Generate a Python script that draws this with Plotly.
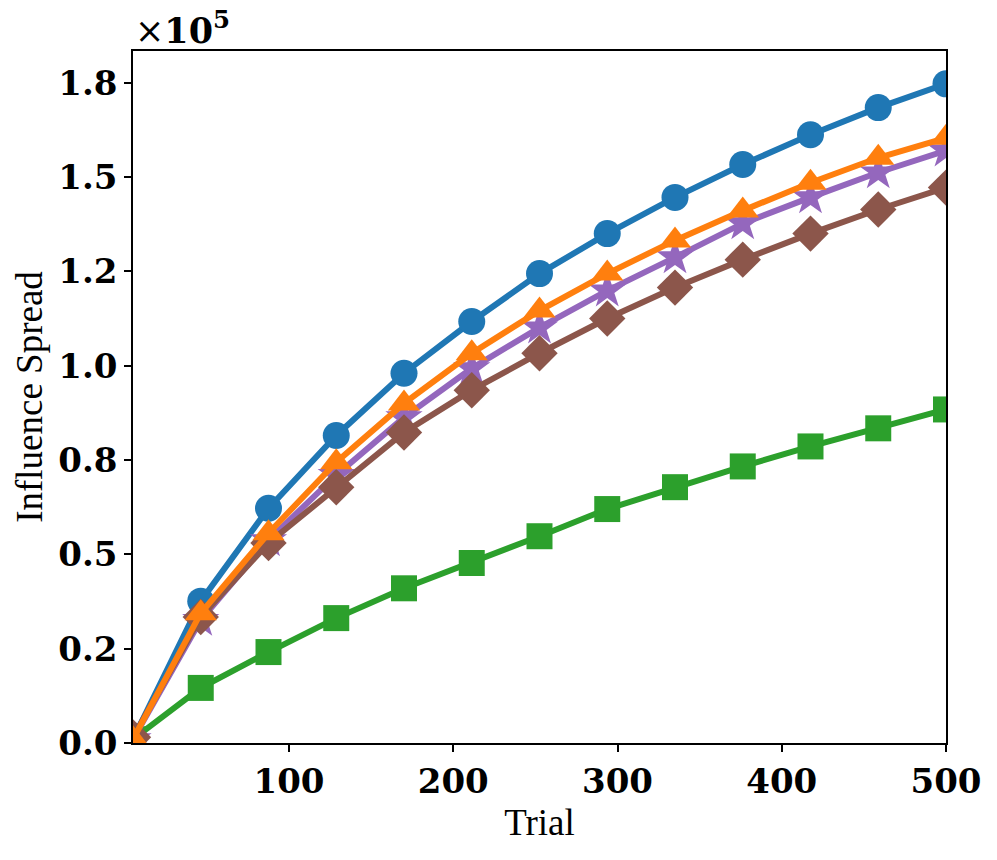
import plotly.graph_objects as go

trials = [5, 46.25, 87.5, 128.75, 170, 211.25, 252.5, 293.75, 335, 376.25, 417.5, 458.75, 500]

# Influence spread values (raw)
blue_circle = [1000, 37600, 62200, 81500, 98000, 111700, 124400, 135000, 144600, 153300, 161200, 168400, 174700]
orange_tri = [1000, 34400, 55600, 74400, 90000, 103300, 114600, 124400, 133200, 141100, 148500, 155100, 160400]
green_sq = [1000, 14600, 24100, 33100, 41000, 47700, 54800, 62000, 67800, 73300, 78600, 83400, 88400]
purple_star = [1000, 32600, 53700, 71000, 86300, 99300, 110100, 119900, 128700, 137700, 144600, 151200, 157000]
brown_dia = [1500, 33400, 53000, 67800, 82300, 93500, 103300, 112500, 120700, 128100, 135000, 141400, 147200]

y_tickvals = [0, 25000, 50000, 75000, 100000, 125000, 150000, 175000]
y_ticktext = ["0.0", "0.2", "0.5", "0.8", "1.0", "1.2", "1.5", "1.8"]
x_tickvals = [100, 200, 300, 400, 500]
x_ticktext = ["100", "200", "300", "400", "500"]

series = [
    (blue_circle, "#1f77b4", "circle", 27),
    (green_sq, "#2ca02c", "square", 26),
    (purple_star, "#9467bd", "star", 28),
    (brown_dia, "#8c564b", "diamond", 28),
    (orange_tri, "#ff7f0e", "triangle-up", 28),
]

fig = go.Figure()
for vals, color, sym, size in series:
    fig.add_trace(go.Scatter(
        x=trials, y=vals, mode="lines+markers",
        line=dict(color=color, width=6),
        marker=dict(symbol=sym, size=size, color=color, line=dict(width=0)),
        cliponaxis=True, showlegend=False,
    ))

tick_font = dict(family="DejaVu Serif", size=34, color="black", weight="bold")
title_font = dict(family="Liberation Serif", size=37, color="black")

fig.update_layout(
    width=997, height=860,
    margin=dict(l=133, r=51, t=51, b=117),
    paper_bgcolor="white", plot_bgcolor="white",
    xaxis=dict(
        range=[5, 500], tickvals=x_tickvals, ticktext=x_ticktext,
        showgrid=False, zeroline=False, showline=True, linecolor="black", linewidth=1.5,
        mirror=True, ticks="outside", ticklen=7, tickwidth=1.5, tickcolor="black",
        tickfont=tick_font,
        title=dict(text="Trial", font=title_font, standoff=10),
    ),
    yaxis=dict(
        range=[0, 183400], tickvals=y_tickvals, ticktext=y_ticktext,
        showgrid=False, zeroline=False, showline=True, linecolor="black", linewidth=1.5,
        mirror=True, ticks="outside", ticklen=7, tickwidth=1.5, tickcolor="black",
        tickfont=tick_font,
        title=dict(text="Influence Spread", font=title_font, standoff=4),
    ),
    annotations=[dict(
        xref="paper", yref="paper", x=0, y=1, xanchor="left", yanchor="bottom",
        text="×<b>10<sup>5</sup></b>", showarrow=False,
        font=dict(family="DejaVu Serif", size=35, color="black"), yshift=-2,
    )],
)

fig.write_html("out.html")
